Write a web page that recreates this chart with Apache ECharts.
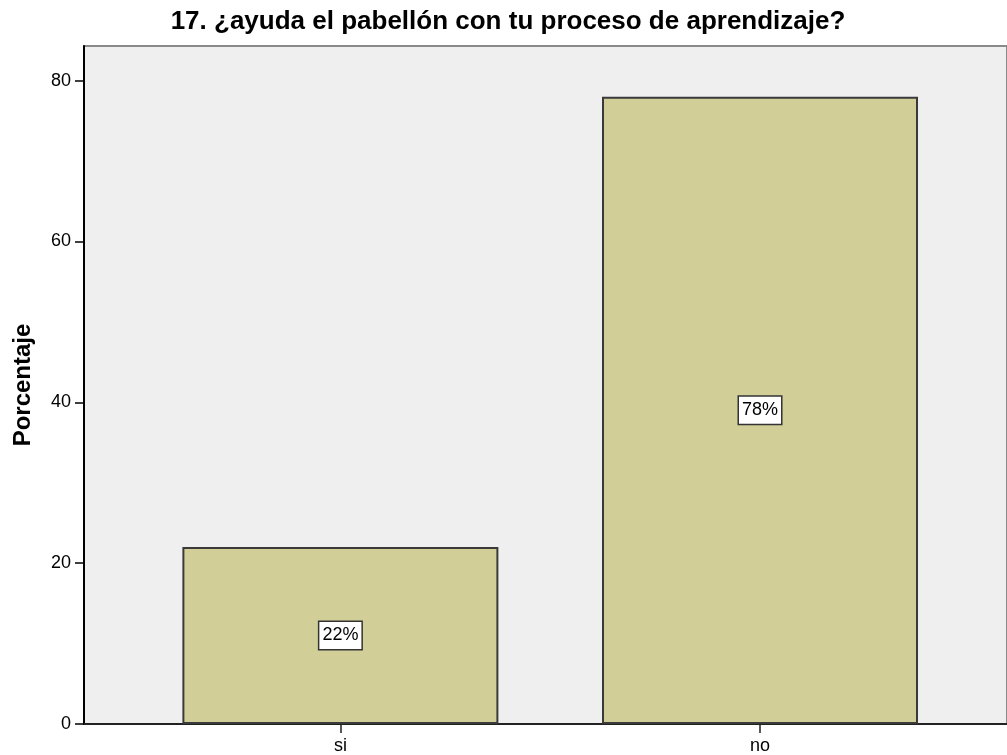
<!DOCTYPE html>
<html>
<head>
<meta charset="utf-8">
<script src="https://cdn.jsdelivr.net/npm/echarts@6/dist/echarts.min.js"></script>
<style>
  html, body { margin: 0; padding: 0; background: #fff; }
  #chart { width: 1007px; height: 755px; }
</style>
</head>
<body>
<div id="chart"></div>
<script>
const categories = ['si', 'no'];
const percentages = [22, 78];
const yTicks = [0, 20, 40, 60, 80];

const chart = echarts.init(document.getElementById('chart'));
const font = 'Liberation Sans, Arial, sans-serif';

const option = {
  backgroundColor: '#ffffff',
  animation: false,
  title: {
    text: '17. ¿ayuda el pabellón con tu proceso de aprendizaje?',
    left: 508,
    textAlign: 'center',
    top: 9,
    padding: 0,
    textStyle: { fontFamily: font, fontSize: 26, fontWeight: 'bold', color: '#000' }
  },
  grid: {
    left: 84, right: -2, top: 46, bottom: 31,
    show: true,
    backgroundColor: '#efefef',
    borderColor: '#8a8a8a',
    borderWidth: 2
  },
  xAxis: {
    type: 'value',
    min: -0.611,
    max: 1.5886,
    splitLine: { show: false },
    axisLine: { show: true, onZero: false, lineStyle: { color: '#222', width: 2 } },
    axisTick: { show: true, customValues: [0, 1], length: 9, lineStyle: { color: '#222', width: 1.5 } },
    axisLabel: {
      customValues: [0, 1],
      formatter: v => categories[Math.round(v)],
      color: '#000', fontFamily: font, fontSize: 18, margin: 13
    }
  },
  yAxis: {
    type: 'value',
    min: 0,
    max: 84.3,
    name: 'Porcentaje',
    nameLocation: 'middle',
    nameGap: 49,
    nameTextStyle: { fontFamily: font, fontSize: 24, fontWeight: 'bold', color: '#000' },
    splitLine: { show: false },
    axisLine: { show: true, onZero: false, lineStyle: { color: '#000', width: 2 } },
    axisTick: { show: true, customValues: yTicks, length: 9, lineStyle: { color: '#000', width: 1.5 } },
    axisLabel: {
      customValues: yTicks,
      color: '#000', fontFamily: font, fontSize: 18, margin: 13
    }
  },
  series: [{
    type: 'bar',
    barWidth: 316,
    data: categories.map((c, i) => [i, percentages[i]]),
    itemStyle: { color: '#d2ce98', borderColor: '#3a3a3a', borderWidth: 2 },
    label: {
      show: true,
      position: 'inside',
      formatter: p => p.value[1] + '%',
      color: '#000',
      fontFamily: font,
      fontSize: 18,
      backgroundColor: '#fff',
      borderColor: '#333',
      borderWidth: 1.5,
      padding: [5, 3, 4, 3]
    }
  }]
};

chart.setOption(option);
</script>
</body>
</html>
